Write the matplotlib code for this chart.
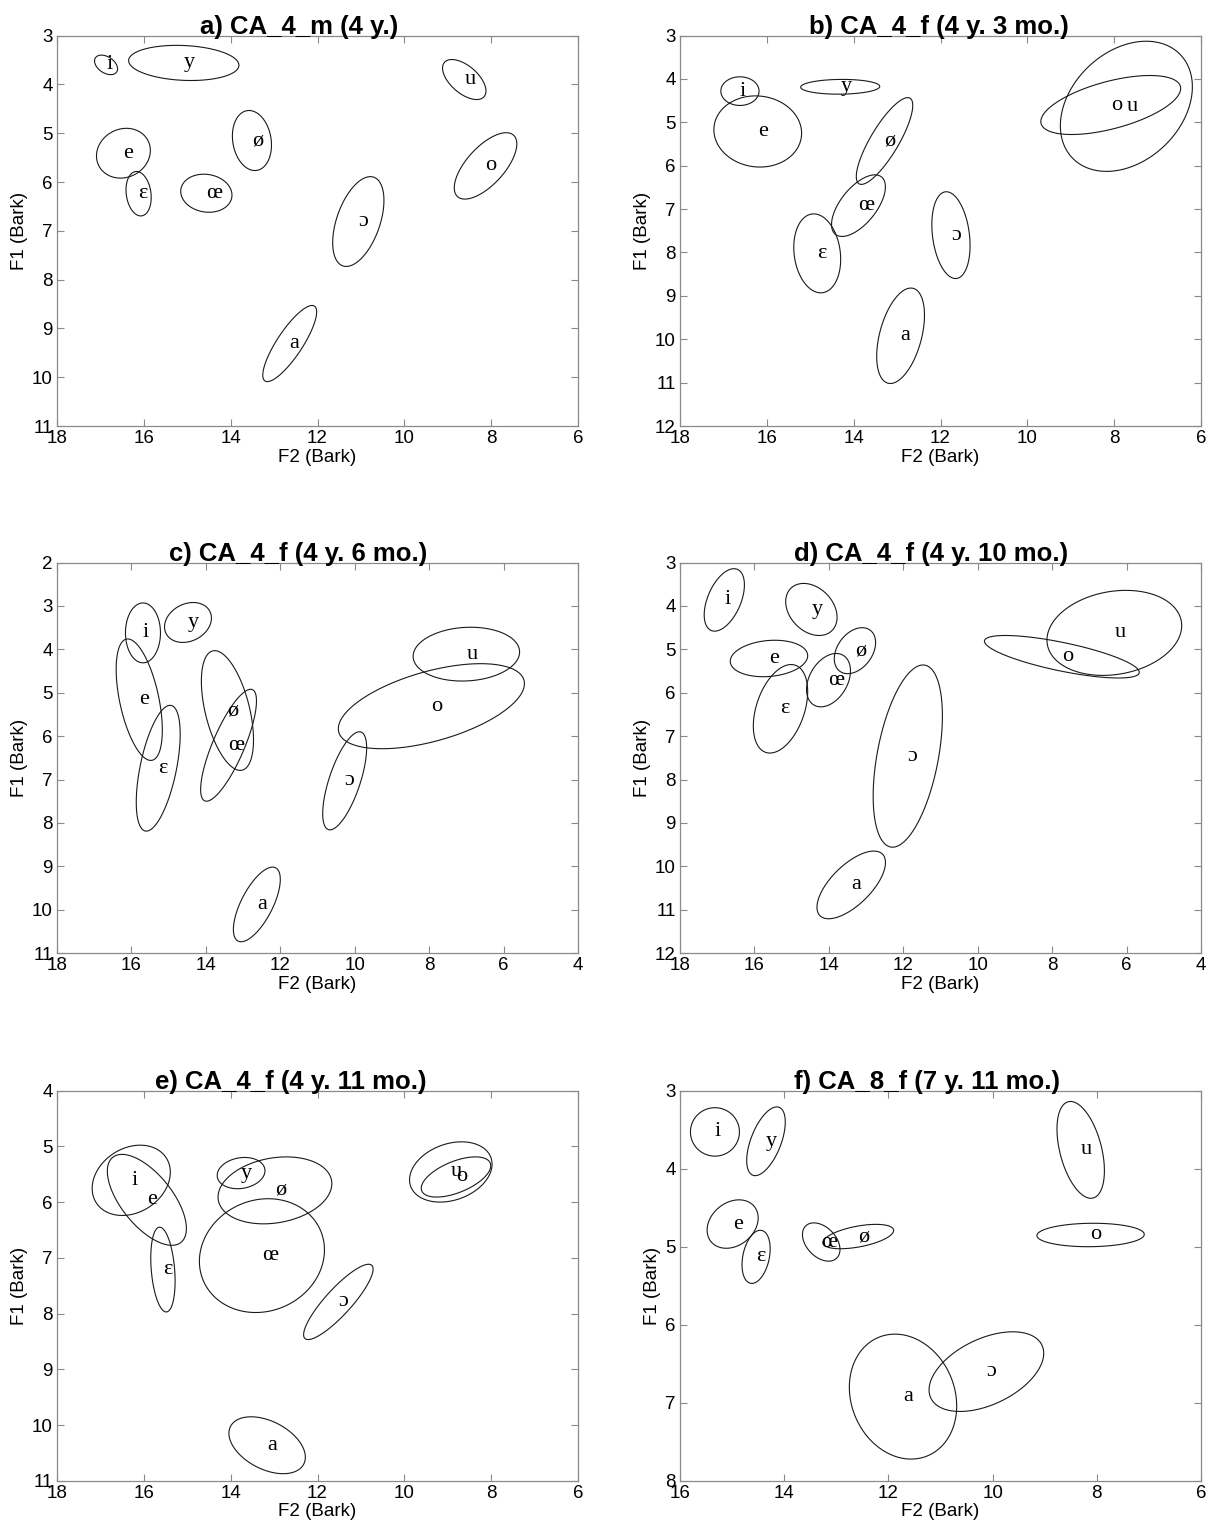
import numpy as np
import matplotlib
matplotlib.use("Agg")
import matplotlib.pyplot as plt

plt.rcParams["font.family"] = ["Liberation Sans", "DejaVu Sans"]

# vowel order used by every panel
vowels = ["i", "y", "e", "ø", "ɛ", "œ", "a", "ɔ", "o", "u"]

# per panel: ellipse centre (F2, F1), half-extent along F2 and F1, tilt (correlation)
a_f2 = [16.87, 15.08, 16.47, 13.51, 16.12, 14.56, 12.64, 11.06, 8.13, 8.62]
a_f1 = [3.60, 3.56, 5.41, 5.15, 6.24, 6.23, 9.31, 6.81, 5.67, 3.90]
a_r2 = [0.265, 1.27, 0.62, 0.45, 0.29, 0.59, 0.62, 0.59, 0.72, 0.50]
a_r1 = [0.20, 0.36, 0.51, 0.615, 0.455, 0.39, 0.78, 0.92, 0.68, 0.41]
a_rho = [-0.4, -0.13, 0.11, -0.15, -0.17, -0.1, 0.83, 0.47, 0.66, -0.57]

b_f2 = [16.62, 14.31, 16.21, 13.29, 14.84, 13.89, 12.92, 11.76, 8.08, 7.72]
b_f1 = [4.28, 4.18, 5.21, 5.43, 8.02, 6.92, 9.92, 7.60, 4.60, 4.63]
b_r2 = [0.44, 0.91, 1.01, 0.65, 0.54, 0.62, 0.55, 0.44, 1.61, 1.52]
b_r1 = [0.33, 0.17, 0.82, 1.00, 0.91, 0.71, 1.10, 1.00, 0.68, 1.50]
b_rho = [0.0, 0.05, -0.05, 0.82, -0.15, 0.61, 0.43, -0.24, 0.56, 0.30]

c_f2 = [15.69, 14.48, 15.79, 13.42, 15.28, 13.39, 12.63, 10.27, 7.94, 7.00]
c_f1 = [3.62, 3.38, 5.16, 5.41, 6.74, 6.21, 9.88, 7.03, 5.31, 4.11]
c_r2 = [0.47, 0.63, 0.62, 0.70, 0.59, 0.75, 0.63, 0.59, 2.50, 1.43]
c_r1 = [0.69, 0.46, 1.40, 1.38, 1.45, 1.29, 0.86, 1.13, 0.98, 0.62]
c_rho = [0.0, 0.22, -0.5, -0.49, 0.54, 0.79, 0.67, 0.67, 0.53, 0.08]

d_f2 = [16.81, 14.47, 15.61, 13.30, 15.30, 14.01, 13.40, 11.88, 7.74, 6.33]
d_f1 = [3.86, 4.08, 5.21, 5.03, 6.37, 5.71, 10.43, 7.46, 5.17, 4.62]
d_r2 = [0.54, 0.69, 1.04, 0.555, 0.73, 0.59, 0.92, 0.93, 2.08, 1.81]
d_r1 = [0.72, 0.60, 0.42, 0.53, 1.02, 0.615, 0.78, 2.10, 0.49, 0.98]
d_rho = [0.48, -0.3, 0.15, 0.35, 0.39, 0.35, 0.66, 0.44, -0.73, 0.17]

e_f2 = [16.29, 13.76, 15.93, 12.98, 15.56, 13.28, 13.16, 11.52, 8.81, 8.93]
e_f1 = [5.61, 5.48, 5.96, 5.79, 7.21, 6.96, 10.36, 7.79, 5.55, 5.46]
e_r2 = [0.90, 0.55, 0.91, 1.31, 0.28, 1.44, 0.88, 0.80, 0.80, 0.95]
e_r1 = [0.63, 0.28, 0.815, 0.60, 0.76, 1.02, 0.51, 0.675, 0.36, 0.54]
e_rho = [0.23, 0.15, -0.63, 0.2, -0.27, 0.1, -0.42, 0.87, 0.56, 0.26]

f_f2 = [15.33, 14.35, 14.99, 12.58, 14.54, 13.29, 11.72, 10.12, 8.12, 8.31]
f_f1 = [3.53, 3.65, 4.71, 4.87, 5.13, 4.94, 6.92, 6.60, 4.85, 3.76]
f_r2 = [0.47, 0.37, 0.49, 0.68, 0.27, 0.36, 1.03, 1.10, 1.03, 0.455]
f_r1 = [0.31, 0.44, 0.31, 0.156, 0.34, 0.245, 0.80, 0.51, 0.15, 0.62]
f_rho = [0.0, 0.56, 0.25, 0.5, 0.3, -0.39, -0.15, 0.46, 0.05, -0.43]

titles = ["a) CA_4_m (4 y.)", "b) CA_4_f (4 y. 3 mo.)", "c) CA_4_f (4 y. 6 mo.)",
          "d) CA_4_f (4 y. 10 mo.)", "e) CA_4_f (4 y. 11 mo.)", "f) CA_8_f (7 y. 11 mo.)"]
xlims = [(18, 6), (18, 6), (18, 4), (18, 4), (18, 6), (16, 6)]
ylims = [(11, 3), (12, 3), (11, 2), (12, 3), (11, 4), (8, 3)]

panels = [
    (a_f2, a_f1, a_r2, a_r1, a_rho),
    (b_f2, b_f1, b_r2, b_r1, b_rho),
    (c_f2, c_f1, c_r2, c_r1, c_rho),
    (d_f2, d_f1, d_r2, d_r1, d_rho),
    (e_f2, e_f1, e_r2, e_r1, e_rho),
    (f_f2, f_f1, f_r2, f_r1, f_rho),
]

# axes rectangles in figure fractions (left, bottom, width, height)
lefts = [0.0471, 0.562]
bottoms = [0.7212, 0.3763, 0.0308]
w, h = 0.4306, 0.2555
title_x = [0.464, 0.497, 0.463, 0.481, 0.448, 0.474]

fig = plt.figure(figsize=(12.1, 15.28), dpi=100)
t = np.linspace(0, 2 * np.pi, 300)
gray = "#8a8a8a"

for k, (f2, f1, r2, r1, rho) in enumerate(panels):
    ax = fig.add_axes([lefts[k % 2], bottoms[k // 2], w, h])
    for v, cx, cy, rx, ry, p in zip(vowels, f2, f1, r2, r1, rho):
        xs = cx + rx * np.cos(t)
        ys = cy + ry * (p * np.cos(t) + np.sqrt(1 - p ** 2) * np.sin(t))
        ax.fill(xs, ys, fill=False, edgecolor="#1a1a1a", lw=0.8)
        ax.text(cx, cy, v, ha="left", va="center", fontsize=16,
                family=["Liberation Serif", "DejaVu Serif"])
    ax.set_xlim(*xlims[k])
    ax.set_ylim(*ylims[k])
    ax.set_xticks(np.arange(min(xlims[k]), max(xlims[k]) + 1, 2))
    ax.set_yticks(np.arange(min(ylims[k]), max(ylims[k]) + 1, 1))
    ax.tick_params(direction="in", length=5, width=0.8, color=gray,
                   top=True, right=True, labelsize=13.5, pad=3)
    for s in ax.spines.values():
        s.set_color(gray)
        s.set_linewidth(0.9)
    ax.set_xlabel("F2 (Bark)", fontsize=13.5, labelpad=1)
    ax.set_ylabel("F1 (Bark)", fontsize=13.5, labelpad=3)
    ax.set_title(titles[k], fontsize=18.5, fontweight="bold", pad=1, x=title_x[k])

fig.savefig("out.png", dpi=100, facecolor="white")
